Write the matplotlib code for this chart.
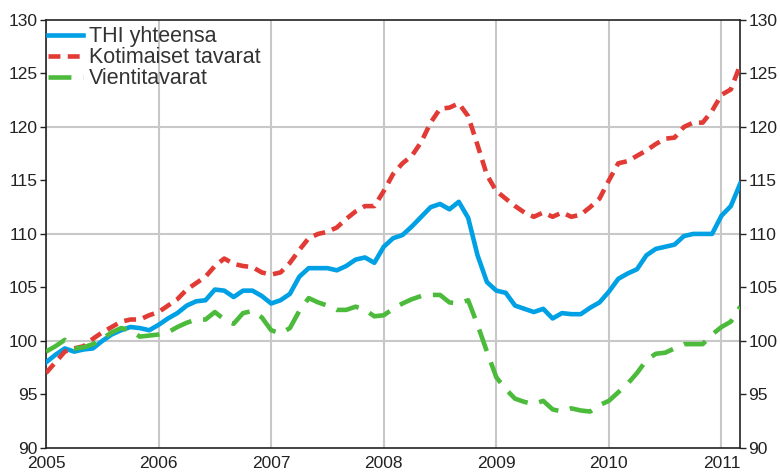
import numpy as np
import matplotlib
matplotlib.use("Agg")
import matplotlib.pyplot as plt

# monthly index values, 2005M01 .. 2011M03
thi = [98.0, 98.7, 99.3, 99.0, 99.2, 99.3, 100.0, 100.6, 101.0, 101.3, 101.2, 101.0,
       101.5, 102.1, 102.6, 103.3, 103.7, 103.8, 104.8, 104.7, 104.1, 104.7, 104.7, 104.2,
       103.5, 103.8, 104.4, 106.0, 106.8, 106.8, 106.8, 106.6, 107.0, 107.6, 107.8, 107.3,
       108.8, 109.6, 109.9, 110.7, 111.6, 112.5, 112.8, 112.3, 113.0, 111.5, 108.0, 105.5,
       104.7, 104.5, 103.3, 103.0, 102.7, 103.0, 102.1, 102.6, 102.5, 102.5, 103.1, 103.6,
       104.6, 105.8, 106.3, 106.7, 108.0, 108.6, 108.8, 109.0, 109.8, 110.0, 110.0, 110.0,
       111.7, 112.6, 114.7]
kotimaiset = [97.0, 98.0, 99.0, 99.3, 99.5, 100.2, 100.8, 101.3, 101.8, 102.0, 102.0, 102.4,
              102.7, 103.3, 103.9, 104.8, 105.4, 106.0, 107.0, 107.7, 107.2, 107.0, 106.9, 106.4,
              106.2, 106.4, 107.3, 108.5, 109.6, 110.0, 110.2, 110.6, 111.4, 112.1, 112.6, 112.6,
              114.0, 115.6, 116.6, 117.3, 118.6, 120.4, 121.7, 121.8, 122.2, 121.0, 118.3, 115.5,
              114.0, 113.3, 112.6, 112.0, 111.6, 112.0, 111.6, 112.0, 111.6, 111.8, 112.5, 113.3,
              115.0, 116.6, 116.8, 117.3, 117.8, 118.4, 118.9, 119.0, 120.0, 120.4, 120.4, 121.5,
              123.0, 123.5, 125.8]
vienti = [99.0, 99.5, 100.1, 99.3, 99.4, 99.7, 100.2, 100.8, 101.2, 101.0, 100.4, 100.5,
          100.6, 100.8, 101.3, 101.7, 102.0, 102.0, 102.7, 102.0, 101.6, 102.6, 102.8, 102.2,
          101.0, 100.7, 101.2, 102.8, 104.0, 103.6, 103.3, 102.9, 102.9, 103.2, 102.9, 102.3,
          102.4, 103.0, 103.5, 103.9, 104.2, 104.3, 104.3, 103.6, 103.5, 103.8, 101.5, 99.0,
          96.6, 95.5, 94.6, 94.3, 94.1, 94.4, 93.6, 93.4, 93.7, 93.5, 93.4, 94.0,
          94.4, 95.2, 96.0, 97.0, 98.2, 98.8, 98.9, 99.3, 99.7, 99.7, 99.7, 100.6,
          101.3, 101.8, 103.2]
years = list(range(2005, 2012))
grid_y = [100, 110, 120]
x = 2005 + np.arange(len(thi)) / 12

plt.rcParams["font.family"] = ["Liberation Sans", "DejaVu Sans"]

fig = plt.figure(figsize=(7.8, 4.74), dpi=100)
ax = fig.add_axes([0.059, 0.055, 0.89, 0.903])

ax.plot(x, thi, color="#00a0e4", lw=3.3, label="THI yhteensa", zorder=3)
ax.plot(x, kotimaiset, color="#e23a35", lw=3.3, dashes=(2.6, 1.6), label="Kotimaiset tavarat", zorder=3)
ax.plot(x, vienti, color="#4cbb3c", lw=3.3, dashes=(5, 2.6), label="Vientitavarat", zorder=3)

ax.set_xlim(2005, 2011 + 2 / 12)
ax.set_ylim(90, 130)
ax.set_xticks(years)
ax.set_xticklabels([str(y) for y in years])
ax.set_yticks(range(90, 131, 5))
ax.tick_params(axis="y", direction="out", length=4, width=1,
               labelsize=12.5, left=True, right=True, labelleft=True, labelright=True,
               colors="#222222", pad=2)
ax.tick_params(axis="x", length=0, labelsize=12.5, colors="#222222", pad=6)
ax.grid(axis="x", color="#c8c8c8", lw=1.5)
for gy in grid_y:
    ax.axhline(gy, color="#c8c8c8", lw=1.5, zorder=1)
for s in ax.spines.values():
    s.set_color("#222222")
    s.set_linewidth(1.2)

leg = ax.legend(loc="upper left", bbox_to_anchor=(0.0, 0.99), frameon=False,
                fontsize=15.5, handlelength=1.6, handletextpad=0.3,
                labelspacing=0.0, borderaxespad=0.0, borderpad=0.1)
for t in leg.get_texts():
    t.set_color("#333333")

fig.savefig("out.png", dpi=100)
